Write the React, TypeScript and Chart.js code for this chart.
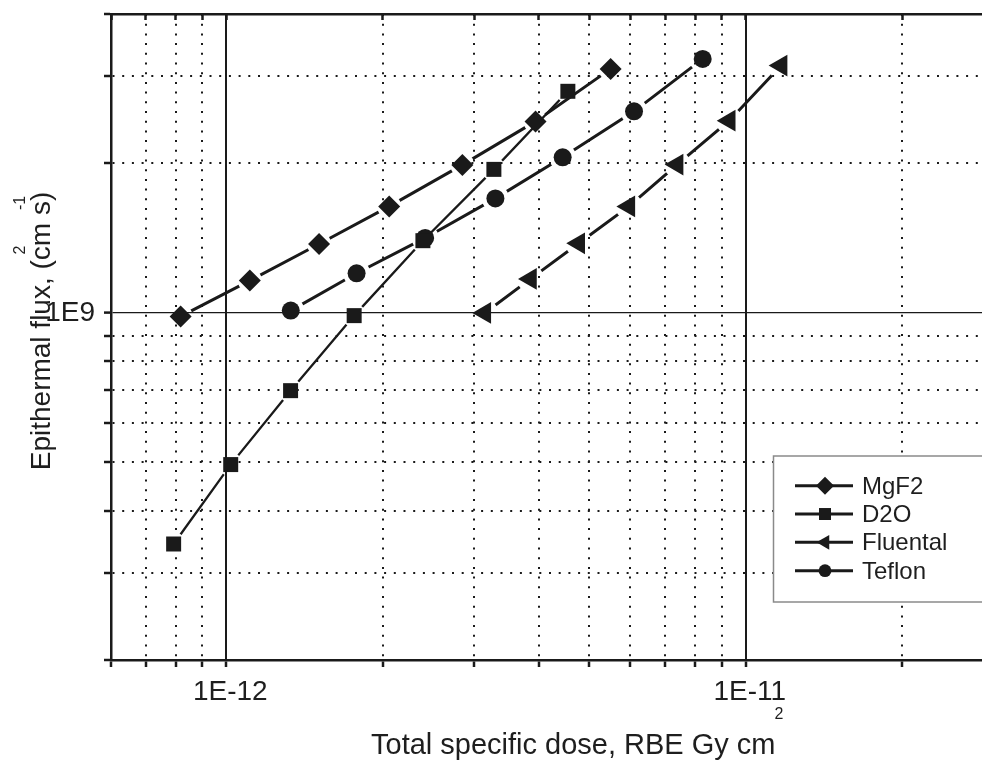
import React, { useEffect, useRef } from 'react';
import { Chart, registerables } from 'chart.js';

Chart.register(...registerables);

const INK = '#1a1a1a';
const TEXT = '#1e1e1e';
const FONT = '"Liberation Sans", Arial, Helvetica, sans-serif';

// ---- data (dose in RBE Gy cm^2, flux in cm^-2 s^-1) ----
const seriesNames = ['MgF2', 'D2O', 'Fluental', 'Teflon'];

const mgf2Dose = [0.817e-12, 1.11e-12, 1.509e-12, 2.059e-12, 2.848e-12, 3.939e-12, 5.495e-12];
const mgf2Flux = [0.984e9, 1.162e9, 1.377e9, 1.639e9, 1.987e9, 2.431e9, 3.101e9];

const d2oDose = [0.792e-12, 1.02e-12, 1.33e-12, 1.763e-12, 2.391e-12, 3.275e-12, 4.546e-12];
const d2oFlux = [0.3425e9, 0.495e9, 0.6974e9, 0.9876e9, 1.398e9, 1.946e9, 2.795e9];

const fluentalDose = [3.146e-12, 3.852e-12, 4.771e-12, 5.958e-12, 7.379e-12, 9.295e-12, 11.7e-12];
const fluentalFlux = [1.0e9, 1.171e9, 1.381e9, 1.639e9, 1.99e9, 2.439e9, 3.149e9];

const teflonDose = [1.331e-12, 1.782e-12, 2.415e-12, 3.297e-12, 4.442e-12, 6.095e-12, 8.264e-12];
const teflonFlux = [1.011e9, 1.202e9, 1.416e9, 1.701e9, 2.058e9, 2.547e9, 3.248e9];

// ---- axes ----
const X_MIN = 6e-13;
const X_MAX = 2.85e-11;
const Y_MIN = 2e8;
const Y_MAX = 4e9;

const xTickValues = [6e-13, 7e-13, 8e-13, 9e-13, 1e-12, 2e-12, 3e-12, 4e-12, 5e-12, 6e-12, 7e-12, 8e-12, 9e-12, 1e-11, 2e-11];
const xTickLabels = ['', '', '', '', '1E-12', '', '', '', '', '', '', '', '', '1E-11', ''];

const yTickValues = [2e8, 3e8, 4e8, 5e8, 6e8, 7e8, 8e8, 9e8, 1e9, 2e9, 3e9, 4e9];
const yTickLabels = ['', '', '', '', '', '', '', '', '1E9', '', '', ''];

const X_TITLE = 'Total specific dose, RBE Gy cm';
const X_TITLE_SUP = '2';
const Y_TITLE = 'Epithermal flux, (cm s)';
const Y_TITLE_SUP1 = '2';
const Y_TITLE_SUP2 = '-1';

type Marker = 'diamond' | 'square' | 'triangle' | 'circle';

const series = [
  { name: seriesNames[0], dose: mgf2Dose, flux: mgf2Flux, marker: 'diamond' as Marker, pointStyle: 'rectRot', radius: 11, rotation: 0, lineWidth: 3, gap: 12, legendR: 9 },
  { name: seriesNames[1], dose: d2oDose, flux: d2oFlux, marker: 'square' as Marker, pointStyle: 'rect', radius: 10.6, rotation: 0, lineWidth: 2.3, gap: 12, legendR: 6 },
  { name: seriesNames[2], dose: fluentalDose, flux: fluentalFlux, marker: 'triangle' as Marker, pointStyle: 'triangle', radius: 12.5, rotation: -90, lineWidth: 3, gap: 13.5, legendR: 8.5 },
  { name: seriesNames[3], dose: teflonDose, flux: teflonFlux, marker: 'circle' as Marker, pointStyle: 'circle', radius: 9, rotation: 0, lineWidth: 3, gap: 13.5, legendR: 6.4 },
];

const toPoints = (xs: number[], ys: number[]) => xs.map((x, i) => ({ x, y: ys[i] }));

function drawMarker(ctx: CanvasRenderingContext2D, m: Marker, x: number, y: number, r: number) {
  ctx.beginPath();
  if (m === 'diamond') {
    ctx.moveTo(x - r, y);
    ctx.lineTo(x, y - r);
    ctx.lineTo(x + r, y);
    ctx.lineTo(x, y + r);
    ctx.closePath();
  } else if (m === 'square') {
    ctx.rect(x - r, y - r, 2 * r, 2 * r);
  } else if (m === 'triangle') {
    ctx.moveTo(x - r, y);
    ctx.lineTo(x + r / 2, y - r * 0.866);
    ctx.lineTo(x + r / 2, y + r * 0.866);
    ctx.closePath();
  } else {
    ctx.arc(x, y, r, 0, Math.PI * 2);
  }
  ctx.fill();
}

// Lines stop short of their markers (Origin style)
const gapPlugin = {
  id: 'lineGaps',
  beforeDatasetDraw(chart: any, args: any) {
    const ds = chart.data.datasets[args.index];
    if (!ds.gapRadius) return;
    const ctx = chart.ctx;
    const r = ds.gapRadius;
    ctx.save();
    ctx.beginPath();
    ctx.rect(0, 0, chart.width, chart.height);
    args.meta.data.forEach((p: any) => {
      ctx.moveTo(p.x + r, p.y);
      ctx.arc(p.x, p.y, r, 0, Math.PI * 2, true);
    });
    ctx.clip('evenodd');
  },
  afterDatasetDraw(chart: any, args: any) {
    const ds = chart.data.datasets[args.index];
    if (!ds.gapRadius) return;
    chart.ctx.restore();
  },
};

const decorPlugin = {
  id: 'decor',
  afterDraw(chart: any) {
    const ctx: CanvasRenderingContext2D = chart.ctx;
    ctx.save();
    ctx.fillStyle = TEXT;

    // x title
    ctx.font = `29px ${FONT}`;
    ctx.textAlign = 'left';
    ctx.textBaseline = 'alphabetic';
    const xtX = 371;
    ctx.fillText(X_TITLE, xtX, 754);
    const w = ctx.measureText(X_TITLE).width;
    ctx.font = `16px ${FONT}`;
    ctx.fillText(X_TITLE_SUP, xtX + w - 1, 719);

    // y title (rotated)
    ctx.save();
    ctx.font = `28px ${FONT}`;
    ctx.textAlign = 'center';
    ctx.translate(50, 331);
    ctx.rotate(-Math.PI / 2);
    ctx.fillText(Y_TITLE, 0, 0);
    ctx.restore();
    ctx.font = `16px ${FONT}`;
    ctx.textAlign = 'center';
    ctx.save();
    ctx.translate(25, 250);
    ctx.rotate(-Math.PI / 2);
    ctx.fillText(Y_TITLE_SUP1, 0, 0);
    ctx.restore();
    ctx.save();
    ctx.translate(25, 203);
    ctx.rotate(-Math.PI / 2);
    ctx.fillText(Y_TITLE_SUP2, 0, 0);
    ctx.restore();

    // legend
    const lx = 773.5;
    const ly = 456;
    const lh = 146;
    ctx.fillStyle = '#ffffff';
    ctx.fillRect(lx, ly, 400, lh);
    ctx.strokeStyle = '#8a8a8a';
    ctx.lineWidth = 1.5;
    ctx.strokeRect(lx, ly, 400, lh);
    ctx.font = `24px ${FONT}`;
    ctx.textAlign = 'left';
    ctx.textBaseline = 'alphabetic';
    series.forEach((s, i) => {
      const ry = 485.7 + i * 28.33;
      ctx.strokeStyle = INK;
      ctx.lineWidth = 3;
      ctx.beginPath();
      ctx.moveTo(795, ry);
      ctx.lineTo(853, ry);
      ctx.stroke();
      ctx.fillStyle = INK;
      drawMarker(ctx, s.marker, 825, ry, s.legendR);
      ctx.fillStyle = TEXT;
      ctx.fillText(s.name, 862, ry + 8);
    });
    ctx.restore();
  },
};

const isDot = (labels: string[], c: any) => c && c.type === 'tick' && !labels[c.index];

const noPadding = (s: any) => {
  s.paddingTop = 0;
  s.paddingBottom = 0;
  s.paddingLeft = 0;
  s.paddingRight = 0;
};

export default function App() {
  const ref = useRef<HTMLCanvasElement | null>(null);

  useEffect(() => {
    if (!ref.current) return;
    Chart.defaults.font.family = FONT;
    Chart.defaults.color = TEXT;

    const markerSets = series.map((s) => ({
      label: s.name,
      data: toPoints(s.dose, s.flux),
      showLine: false,
      pointStyle: s.pointStyle,
      pointRadius: s.radius,
      pointHoverRadius: s.radius,
      pointRotation: s.rotation,
      pointBackgroundColor: INK,
      pointBorderColor: INK,
      pointBorderWidth: 0,
      order: 0,
    }));
    const lineSets = series.map((s) => ({
      label: s.name + ' line',
      data: toPoints(s.dose, s.flux),
      showLine: true,
      borderColor: INK,
      borderWidth: s.lineWidth,
      pointRadius: 0,
      pointHoverRadius: 0,
      pointHitRadius: 0,
      fill: false,
      tension: 0,
      order: 1,
      gapRadius: s.gap,
    }));

    const chart = new Chart(ref.current, {
      type: 'scatter',
      data: { datasets: [...markerSets, ...lineSets] as any },
      options: {
        responsive: false,
        animation: false,
        events: [],
        layout: { padding: 0, autoPadding: false },
        plugins: { legend: { display: false }, tooltip: { enabled: false } },
        scales: {
          x: {
            type: 'logarithmic',
            position: 'bottom',
            min: X_MIN,
            max: X_MAX,
            afterBuildTicks: (s: any) => {
              s.ticks = xTickValues.map((v) => ({ value: v }));
            },
            afterFit: (s: any) => {
              s.height = 100;
              noPadding(s);
            },
            ticks: {
              autoSkip: false,
              maxRotation: 0,
              minRotation: 0,
              padding: 8,
              labelOffset: 4,
              font: { size: 28 },
              color: TEXT,
              callback: (_v: any, i: number) => xTickLabels[i],
            },
            grid: {
              color: INK,
              lineWidth: 2,
              drawTicks: true,
              tickLength: 7,
              tickWidth: 2.5,
              tickColor: INK,
            },
            border: {
              display: true,
              color: INK,
              width: 2.5,
              dash: (c: any) => (isDot(xTickLabels, c) ? [2, 7.7] : []),
            },
          },
          x2: {
            type: 'logarithmic',
            position: 'top',
            min: X_MIN,
            max: X_MAX,
            afterBuildTicks: (s: any) => {
              s.ticks = xTickValues.map((v) => ({ value: v }));
            },
            afterFit: (s: any) => {
              s.height = 14;
              noPadding(s);
            },
            ticks: { display: false },
            grid: {
              drawOnChartArea: false,
              drawTicks: true,
              tickLength: -6,
              tickWidth: 2.5,
              tickColor: INK,
            },
            border: { display: true, color: INK, width: 2.5 },
          },
          y: {
            type: 'logarithmic',
            position: 'left',
            min: Y_MIN,
            max: Y_MAX,
            afterBuildTicks: (s: any) => {
              s.ticks = yTickValues.map((v) => ({ value: v }));
            },
            afterFit: (s: any) => {
              s.width = 111;
              noPadding(s);
            },
            ticks: {
              autoSkip: false,
              padding: 9,
              font: { size: 28 },
              color: TEXT,
              callback: (_v: any, i: number) => yTickLabels[i],
            },
            grid: {
              color: INK,
              lineWidth: (c: any) => (c.type === 'tick' && yTickLabels[c.index] ? 1.2 : 2),
              drawTicks: true,
              tickLength: 7,
              tickWidth: 2.5,
              tickColor: INK,
            },
            border: {
              display: true,
              color: INK,
              width: 2.5,
              dash: (c: any) => (isDot(yTickLabels, c) ? [2, 7.7] : []),
            },
          },
        },
      } as any,
      plugins: [gapPlugin, decorPlugin],
    });

    return () => chart.destroy();
  }, []);

  return (
    <div style={{ position: 'absolute', left: 0, top: 0, width: 982, height: 760, overflow: 'hidden', background: '#fff' }}>
      <canvas ref={ref} width={982} height={760} style={{ display: 'block' }} />
    </div>
  );
}
